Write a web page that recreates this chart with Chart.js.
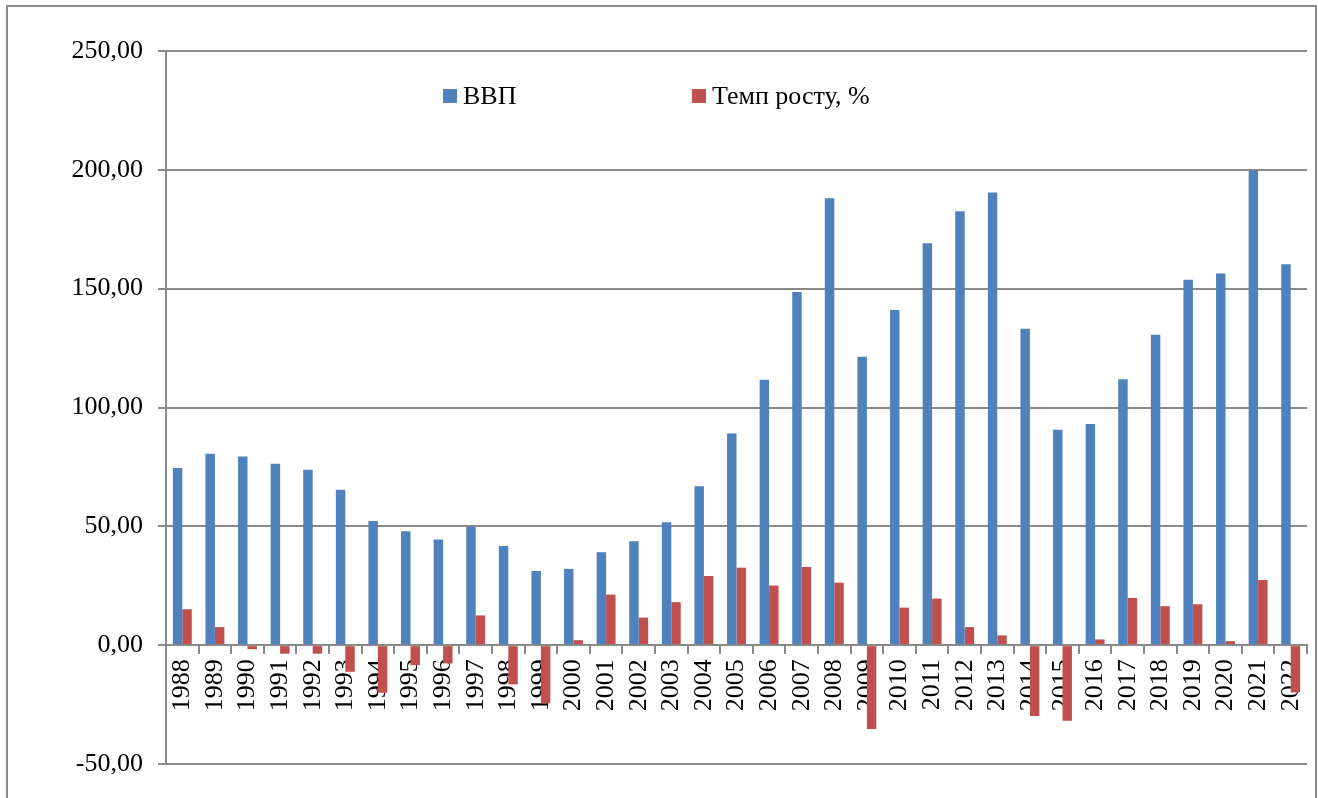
<!DOCTYPE html>
<html>
<head>
<meta charset="utf-8">
<script src="https://cdn.jsdelivr.net/npm/chart.js@4.4.0/dist/chart.umd.min.js"></script>
<style>
  html, body { margin: 0; padding: 0; background: #fff; }
  #wrap { position: relative; width: 1318px; height: 798px; overflow: hidden; }
  #frame { position: absolute; left: 6px; top: 5px; width: 1311px; height: 820px;
           border: 2px solid #8c8c8c; box-sizing: border-box; }
  canvas { position: absolute; left: 0; top: 0; }
</style>
</head>
<body>
<div id="wrap">
  <div id="frame"></div>
  <canvas id="c" width="1318" height="798"></canvas>
</div>
<script>
const years = ['1988','1989','1990','1991','1992','1993','1994','1995','1996','1997','1998','1999',
  '2000','2001','2002','2003','2004','2005','2006','2007','2008','2009','2010','2011',
  '2012','2013','2014','2015','2016','2017','2018','2019','2020','2021','2022'];
const gdp = [74.5, 80.5, 79.4, 76.3, 73.8, 65.4, 52.2, 47.9, 44.5, 49.9, 41.7, 31.2,
  32.1, 39.1, 43.7, 51.7, 66.9, 89.1, 111.7, 148.6, 188.0, 121.4, 141.0, 169.1,
  182.6, 190.5, 133.1, 90.6, 93.1, 111.9, 130.6, 153.8, 156.4, 199.6, 160.3];
const growth = [15.1, 7.6, -1.7, -3.6, -3.6, -11.2, -20.0, -8.4, -7.7, 12.5, -16.5, -24.5,
  2.1, 21.3, 11.6, 18.1, 29.1, 32.6, 25.1, 32.9, 26.3, -35.3, 15.8, 19.6,
  7.6, 4.1, -29.8, -31.8, 2.4, 19.9, 16.4, 17.2, 1.7, 27.4, -19.9];
const seriesNames = ['ВВП', 'Темп росту, %'];
const yTickValues = [-50, 0, 50, 100, 150, 200, 250];

const FONT = '"Liberation Serif", "Times New Roman", serif';
const GRID = '#8a8a8a';

const legendPlugin = {
  id: 'customLegend',
  afterDraw(chart) {
    const ctx = chart.ctx;
    const xs = [443, 692];
    ctx.save();
    ctx.font = '26px ' + FONT;
    ctx.textBaseline = 'middle';
    ctx.textAlign = 'left';
    chart.data.datasets.forEach((ds, i) => {
      ctx.fillStyle = ds.backgroundColor;
      ctx.fillRect(xs[i], 89, 14, 14);
      ctx.fillStyle = '#000';
      ctx.fillText(ds.label, xs[i] + 20, 97);
    });
    ctx.restore();
  }
};

new Chart(document.getElementById('c'), {
  type: 'bar',
  data: {
    labels: years,
    datasets: [
      { label: seriesNames[0], data: gdp, backgroundColor: '#4F81BD', borderWidth: 0 },
      { label: seriesNames[1], data: growth, backgroundColor: '#C0504D', borderWidth: 0 }
    ]
  },
  options: {
    responsive: false,
    animation: false,
    devicePixelRatio: 1,
    categoryPercentage: 0.58,
    barPercentage: 1.0,
    layout: { padding: { left: 0, right: 11, top: 51, bottom: 34 } },
    plugins: { legend: { display: false }, tooltip: { enabled: false } },
    scales: {
      x: {
        position: { y: 0 },
        z: 1,
        offset: true,
        afterFit(scale) { scale.paddingRight = 0; scale.paddingLeft = 0; },
        grid: { display: true, drawOnChartArea: false, drawTicks: true, tickLength: 8, color: GRID, lineWidth: 2, offset: true },
        border: { display: true, color: GRID, width: 2 },
        ticks: {
          minRotation: 90, maxRotation: 90, autoSkip: false, padding: 6,
          color: '#000', font: { family: FONT, size: 26 }
        }
      },
      y: {
        min: -50, max: 250,
        afterFit(scale) { scale.width = 166; },
        afterBuildTicks(scale) { scale.ticks = yTickValues.map(v => ({ value: v })); },
        grid: { color: GRID, lineWidth: 2, tickLength: 8, drawTicks: true },
        border: { display: true, color: GRID, width: 2 },
        ticks: {
          stepSize: 50, padding: 15, color: '#000',
          font: { family: FONT, size: 26 },
          callback: v => v.toFixed(2).replace('.', ',')
        }
      }
    }
  },
  plugins: [legendPlugin]
});
</script>
</body>
</html>
